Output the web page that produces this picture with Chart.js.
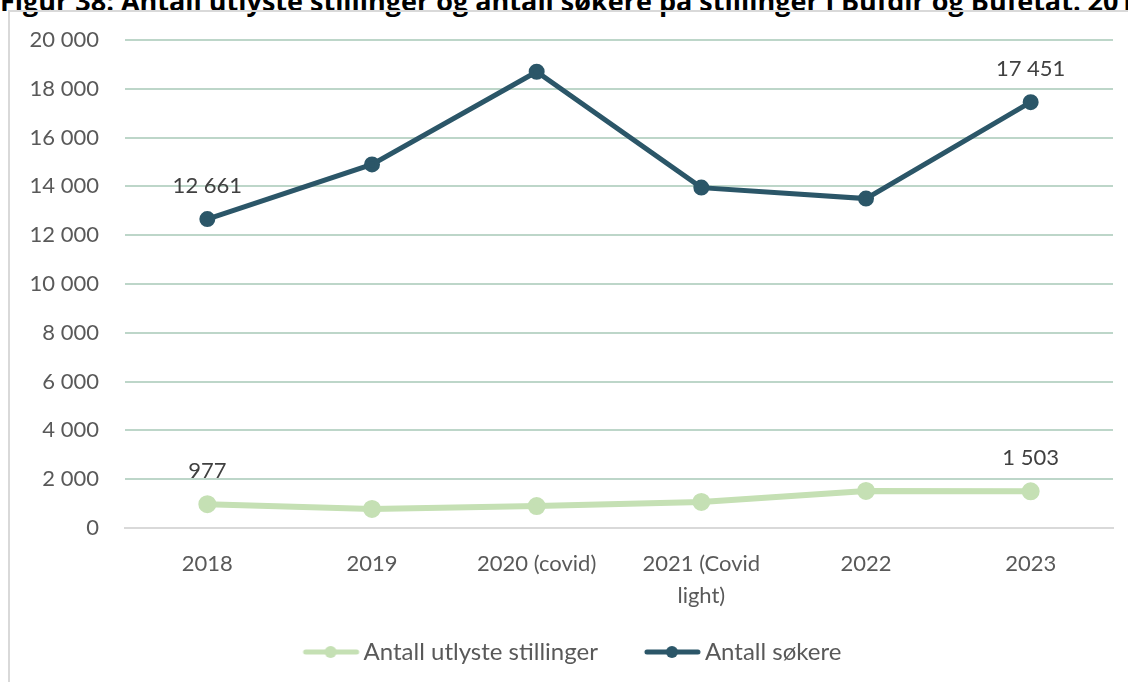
<!DOCTYPE html>
<html lang="no">
<head>
<meta charset="utf-8">
<title>Antall utlyste stillinger og antall søkere</title>
<script src="https://cdn.jsdelivr.net/npm/chart.js@4/dist/chart.umd.min.js"></script>
<style>
  html, body { margin: 0; padding: 0; background: #fff; overflow: hidden; }
  #title {
    position: absolute; left: 0; top: -18px; width: 1128px;
    white-space: nowrap; overflow: hidden;
    font: bold 27px "Open Sans", sans-serif; color: #000;
  }
  #frame {
    position: absolute; left: 8px; top: 10px; width: 1200px; height: 760px;
    border: 2px solid #d9d9d9; box-sizing: border-box;
  }
  #wrap { position: absolute; left: 0; top: 0; width: 1128px; height: 682px; }
</style>
</head>
<body>
<div id="title">Figur 38: Antall utlyste stillinger og antall søkere på stillinger i Bufdir og Bufetat. 2018-2023</div>
<div id="frame"></div>
<div id="wrap"><canvas id="chart"></canvas></div>
<script>
/* ======== DATA ======== */
const years = ["2018", "2019", "2020 (covid)", ["2021 (Covid", "light)"], "2022", "2023"]
const positions = [977, 780, 900, 1070, 1520, 1503]      // Antall utlyste stillinger
const applicants = [12661, 14900, 18700, 13950, 13500, 17451] // Antall søkere
const yTicks = [0, 2000, 4000, 6000, 8000, 10000, 12000, 14000, 16000, 18000, 20000]

const lightGreen = "#c5e0b4"
const darkTeal = "#2b5668"
const textGrey = "#595959"
const fontFamily = "Lato, 'Open Sans', sans-serif"

// thousands with a plain space, "12 661"
function fmt(v) {
    return String(v).replace(/\B(?=(\d{3})+(?!\d))/g, " ")
}

// line-with-dot sample for the legend; the sample sits at the right end
// of the canvas so the box leaves some room before each entry
function legendSwatch(color) {
    const c = document.createElement("canvas")
    c.width = 100
    c.height = 16
    const g = c.getContext("2d")
    g.strokeStyle = color
    g.lineWidth = 5
    g.lineCap = "round"
    g.beginPath()
    g.moveTo(44, 8)
    g.lineTo(95, 8)
    g.stroke()
    g.fillStyle = color
    g.beginPath()
    g.arc(69, 8, 6, 0, Math.PI * 2)
    g.fill()
    return c
}

// value labels above the first and last point of each line
const endLabels = {
    id: "endLabels",
    afterDatasetsDraw(chart) {
        const ctx = chart.ctx
        ctx.save()
        ctx.font = "22px " + fontFamily
        ctx.fillStyle = "#404040"
        ctx.textAlign = "center"
        ctx.textBaseline = "middle"
        chart.data.datasets.forEach((ds, i) => {
            const pts = chart.getDatasetMeta(i).data
            ;[0, pts.length - 1].forEach(idx => {
                ctx.fillText(fmt(ds.data[idx]), pts[idx].x, pts[idx].y - 33)
            })
        })
        ctx.restore()
    }
}

const ctx = document.getElementById("chart").getContext("2d")
const chart = new Chart(ctx, {
    type: "line",
    data: {
        labels: years,
        datasets: [{
            label: "Antall utlyste stillinger",
            data: positions,
            borderColor: lightGreen,
            backgroundColor: lightGreen,
            borderWidth: 6,
            pointRadius: 6,
            pointHoverRadius: 6,
            fill: false,
            tension: 0
        }, {
            label: "Antall søkere",
            data: applicants,
            borderColor: darkTeal,
            backgroundColor: darkTeal,
            borderWidth: 5,
            pointRadius: 5.5,
            pointHoverRadius: 5.5,
            fill: false,
            tension: 0
        }]
    },
    options: {
        responsive: true,
        maintainAspectRatio: false,
        animation: false,
        events: [],
        layout: { padding: { top: 40, right: 15, left: 0, bottom: 8 } },
        scales: {
            x: {
                offset: true,
                grid: { display: false, drawTicks: false },
                border: { display: true, color: "#d9d9d9", width: 2 },
                ticks: {
                    color: textGrey,
                    font: { family: fontFamily, size: 22, lineHeight: 1.45 },
                    padding: 20,
                    maxRotation: 0,
                    autoSkip: false
                },
                afterFit: s => { s.height = 97 }
            },
            y: {
                min: 0,
                max: 20000,
                afterBuildTicks: s => { s.ticks = yTicks.map(v => ({ value: v })) },
                grid: {
                    drawTicks: false,
                    lineWidth: 2,
                    color: c => c.tick && c.tick.value === 0 ? "rgba(0,0,0,0)" : "#bdd6c9"
                },
                border: { display: false },
                ticks: {
                    color: textGrey,
                    font: { family: fontFamily, size: 22 },
                    padding: 26,
                    callback: v => fmt(v)
                },
                afterFit: s => { s.width = 125 }
            }
        },
        plugins: {
            legend: {
                position: "bottom",
                labels: {
                    usePointStyle: true,
                    pointStyleWidth: 80,
                    padding: 15,
                    color: textGrey,
                    font: { family: fontFamily, size: 24 },
                    generateLabels: ch => ch.data.datasets.map((ds, i) => ({
                        text: ds.label,
                        datasetIndex: i,
                        pointStyle: legendSwatch(ds.borderColor),
                        fontColor: textGrey,
                        lineWidth: 0,
                        hidden: false
                    }))
                }
            },
            tooltip: { enabled: false }
        }
    },
    plugins: [endLabels]
})
</script>
</body>
</html>
